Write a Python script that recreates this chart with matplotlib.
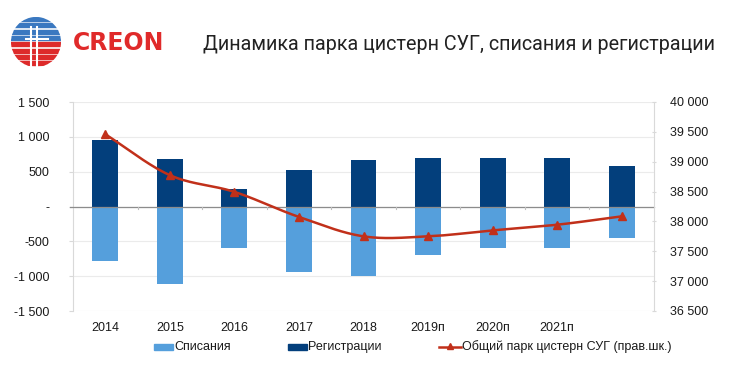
import numpy as np
import matplotlib
matplotlib.use("Agg")
import matplotlib.pyplot as plt
from matplotlib.patches import Circle, Rectangle
from matplotlib.lines import Line2D
from matplotlib.ticker import FuncFormatter

categories = ["2014", "2015", "2016", "2017", "2018", "2019п", "2020п", "2021п", ""]
registrations = [960, 685, 255, 525, 670, 695, 690, 690, 585]
writeoffs = [-785, -1110, -595, -940, -995, -700, -600, -600, -450]
fleet = [39460, 38775, 38495, 38075, 37750, 37750, 37850, 37945, 38085]

left_ticks = [1500, 1000, 500, 0, -500, -1000, -1500]
right_ticks = [40000, 39500, 39000, 38500, 38000, 37500, 37000, 36500]
legend_labels = ["Списания", "Регистрации", "Общий парк цистерн СУГ (прав.шк.)"]

c_light = "#559FDC"
c_dark = "#033F7C"
c_red = "#C1301A"
W, H = 732, 372

plt.rcParams['font.family'] = ['Liberation Sans', 'DejaVu Sans']

fig = plt.figure(figsize=(7.32, 3.72), dpi=100)
ax = fig.add_axes([73/W, 1-311/H, (654-73)/W, (311-102)/H])
x = np.arange(len(categories))
w = 0.4
ax.bar(x, writeoffs, w, color=c_light, zorder=3)
ax.bar(x, registrations, w, color=c_dark, zorder=3)
ax.set_xlim(-0.5, len(categories)-0.5)
ax.set_ylim(-1500, 1500)
ax.set_yticks(left_ticks)

def fmt(v, pos):
    if v == 0:
        return "-"
    s = f"{abs(int(v)):,}".replace(",", " ")
    return ("-" if v < 0 else "") + s

ax.yaxis.set_major_formatter(FuncFormatter(fmt))
ax.grid(axis='y', color="#EBEBEB", lw=0.8, zorder=0)
ax.axhline(0, color="#8C8C8C", lw=0.9, zorder=4, xmin=-0.005, clip_on=False)
for s in ['top', 'bottom']:
    ax.spines[s].set_visible(False)
ax.spines['left'].set_color("#D9D9D9")
ax.spines['right'].set_visible(False)
ax.tick_params(axis='y', length=3, color="#D9D9D9", labelsize=9, pad=14, labelcolor="#1a1a1a")
ax.set_xticks(x)
ax.set_xticklabels(categories)
ax.tick_params(axis='x', length=0, labelsize=9, pad=8, labelcolor="#1a1a1a")
for b in np.arange(0.5, len(categories)-1, 1.0):
    ax.plot([b, b], [0, -40], color="#BFBFBF", lw=0.8, zorder=4)

ax2 = ax.twinx()
ax2.set_ylim(36500, 40000)
ax2.set_yticks(right_ticks)
ax2.yaxis.set_major_formatter(FuncFormatter(fmt))
for s in ['top', 'bottom', 'left']:
    ax2.spines[s].set_visible(False)
ax2.spines['right'].set_color("#D9D9D9")
ax2.tick_params(axis='y', length=3, direction='inout', color="#D9D9D9", labelsize=9, pad=10, labelcolor="#1a1a1a")

# smooth curve (Catmull-Rom) through the points
xs = x.astype(float)
ys = np.array(fleet, dtype=float)
px = np.concatenate([[2*xs[0]-xs[1]], xs, [2*xs[-1]-xs[-2]]])
py = np.concatenate([[2*ys[0]-ys[1]], ys, [2*ys[-1]-ys[-2]]])
cx, cy = [], []
t = np.linspace(0, 1, 30)
for i in range(1, len(px)-2):
    p0, p1, p2, p3 = [np.array([px[j], py[j]]) for j in range(i-1, i+3)]
    for tt in t:
        pt = 0.5*((2*p1) + (-p0+p2)*tt + (2*p0-5*p1+4*p2-p3)*tt**2 + (-p0+3*p1-3*p2+p3)*tt**3)
        cx.append(pt[0]); cy.append(pt[1])
ax2.plot(cx, cy, color=c_red, lw=1.8, zorder=5)
ax2.plot(xs, ys, linestyle='none', marker='^', ms=6, color=c_red, zorder=6)

# legend (manual)
ly = 1 - 347/H
fig.add_artist(Rectangle((154/W, ly-3/H), 19/W, 6/H, color=c_light, transform=fig.transFigure))
fig.text(174/W, ly, legend_labels[0], fontsize=9, va='center', ha='left', color="#1a1a1a")
fig.add_artist(Rectangle((288/W, ly-3/H), 19/W, 6/H, color=c_dark, transform=fig.transFigure))
fig.text(308/W, ly, legend_labels[1], fontsize=9, va='center', ha='left', color="#1a1a1a")
fig.add_artist(Line2D([439/W, 461/W], [ly, ly], color=c_red, lw=1.8, transform=fig.transFigure))
fig.add_artist(Line2D([450/W], [ly+1/H], color=c_red, marker='^', ms=5, transform=fig.transFigure))
fig.text(462/W, ly, legend_labels[2], fontsize=9, va='center', ha='left', color="#1a1a1a")

# title
fig.text(203/W, 1-44/H, "Динамика парка цистерн СУГ, списания и регистрации",
         fontsize=14.2, family=['Roboto', 'DejaVu Sans'], va='center', ha='left', color="#222222")

# logo
lax = fig.add_axes([0, 1-75/H, 75/W, 65/H])
lax.set_xlim(0, 75); lax.set_ylim(75, 10)
lax.set_aspect('equal'); lax.axis('off')
circ = Circle((36, 42), 25, transform=lax.transData)
cols = ["#3A78C0"] * 4 + ["#DD2A2A"] * 4
for i, c in enumerate(cols):
    r = Rectangle((5, 17 + i*6.3), 65, 4.0, color=c)
    r.set_clip_path(circ)
    lax.add_patch(r)
for xv in [31, 37]:
    lax.plot([xv, xv], [27, 70], color='white', lw=1.5)
lax.plot([26, 48], [39, 39], color='white', lw=1.5)
fig.text(73/W, 1-43/H, "CREON", fontsize=17, fontweight='bold', color="#E02A2A",
         va='center', ha='left', family=['DejaVu Sans'])

fig.savefig("out.png", dpi=100, facecolor='white')
